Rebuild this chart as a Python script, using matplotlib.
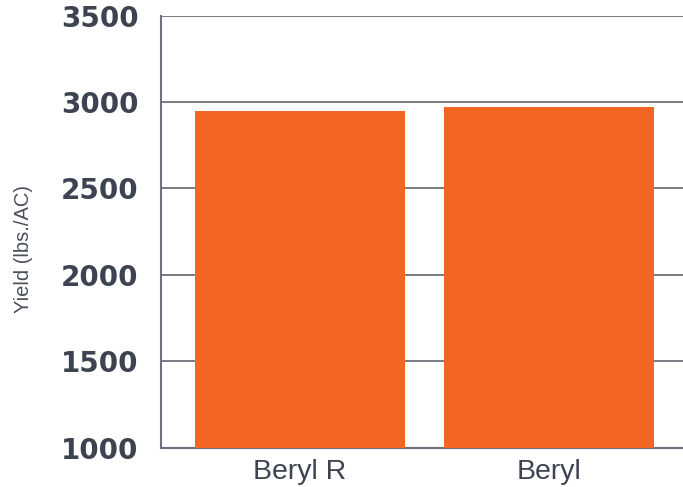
import matplotlib
matplotlib.use("Agg")
import matplotlib.pyplot as plt

categories = ["Beryl R", "Beryl"]
yields = [2948, 2971]
yticks = [1000, 1500, 2000, 2500, 3000, 3500]

plt.rcParams['font.family'] = ['Liberation Sans', 'DejaVu Sans']

fig = plt.figure(figsize=(6.83, 4.87), dpi=100)
ax = fig.add_axes([0.2353, 0.0807, 0.7647, 0.8874])

grid_c = "#6e717b"
x = list(range(len(categories)))
ax.bar(x, yields, width=0.843, color="#F26522", zorder=3)
ax.set_xlim(-0.56, 1.54)
ax.set_ylim(1000, 3500)
ax.set_yticks(yticks)
ax.set_yticklabels([str(t) for t in yticks], fontsize=20, fontweight='bold',
                   color="#3d4350", family='DejaVu Sans')
ax.set_xticks(x)
ax.set_xticklabels(categories, fontsize=20.5, color="#3d4350")
ax.tick_params(axis='y', length=0, pad=16)
ax.tick_params(axis='x', length=0, pad=8)
ax.yaxis.grid(True, color=grid_c, linewidth=1.3, zorder=0)
ax.set_axisbelow(True)
for s in ['top', 'right']:
    ax.spines[s].set_visible(False)
for s in ['left', 'bottom']:
    ax.spines[s].set_color(grid_c)
    ax.spines[s].set_linewidth(1.5)
ax.set_ylabel("Yield (lbs./AC)", fontsize=14.5, color="#4a4f5a", labelpad=0)
ax.yaxis.set_label_coords(-0.245, 0.459)

fig.savefig("out.png", dpi=100)
